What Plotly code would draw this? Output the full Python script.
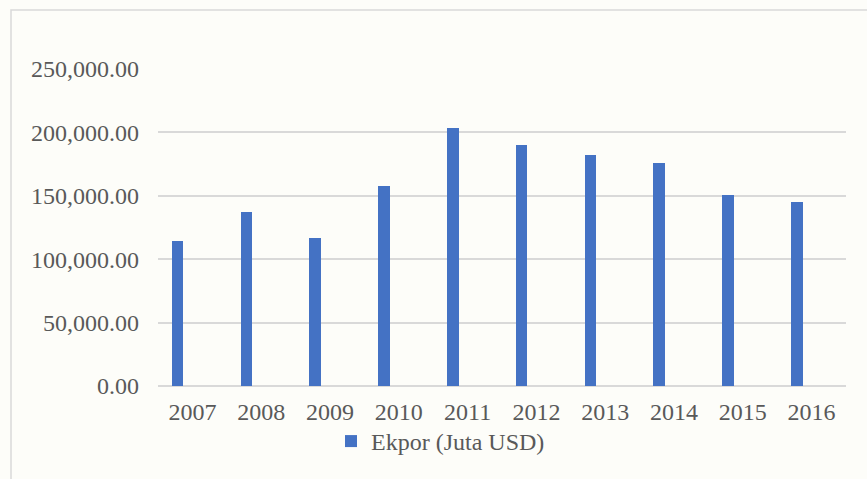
import plotly.graph_objects as go

years = ["2007", "2008", "2009", "2010", "2011", "2012", "2013", "2014", "2015", "2016"]
ekspor = [114100.9, 137020.4, 116510.0, 157779.1, 203496.6, 190031.8, 182551.8, 175980.0, 150366.3, 145186.2]
series_name = "Ekpor (Juta USD)"

FONT = "'Liberation Serif', 'Times New Roman', serif"
GRAY = "#595959"
FS = 24

fig = go.Figure()
fig.add_trace(go.Bar(
    x=years, y=ekspor, name=series_name,
    marker=dict(color="#4472C4", line=dict(width=0)),
    width=0.17, offset=-0.30,
))

fig.update_layout(
    width=867, height=479,
    margin=dict(l=158, r=21, t=69, b=93),
    paper_bgcolor="#FDFDF9", plot_bgcolor="rgba(0,0,0,0)",
    font=dict(family=FONT, size=FS, color=GRAY),
    showlegend=True,
    legend=dict(orientation="h", x=(331 - 158) / 688, xanchor="left", y=-0.175, yanchor="middle",
                font=dict(family=FONT, size=FS, color=GRAY),
                bgcolor="rgba(0,0,0,0)", itemwidth=30),
    bargap=0,
)
fig.update_yaxes(range=[0, 250000], dtick=50000, tickformat=",.2f",
                 showgrid=True, gridcolor="#D9D9D9", gridwidth=1.5,
                 zeroline=True, zerolinecolor="#D9D9D9", zerolinewidth=1.5,
                 showline=False, ticks="", ticklabelstandoff=18,
                 tickfont=dict(family=FONT, size=FS, color=GRAY))
fig.update_xaxes(showgrid=False, showline=False, ticks="", ticklabelstandoff=9,
                 tickfont=dict(family=FONT, size=FS, color=GRAY))

# chart-area border (light gray frame)
fig.add_shape(type="rect", xref="paper", yref="paper",
              x0=(11 - 158) / 688, x1=1.1, y0=-0.5, y1=(479 - 10 - 93) / (479 - 69 - 93),
              line=dict(color="#D9D9D9", width=1.5), fillcolor="rgba(0,0,0,0)", layer="below")

fig.write_html("out.html")
